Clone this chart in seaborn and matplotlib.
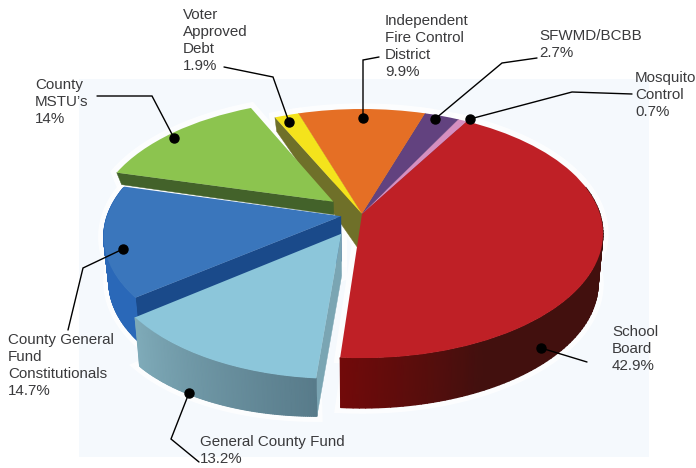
import numpy as np
import matplotlib
matplotlib.use("Agg")
import matplotlib.pyplot as plt
from matplotlib.colors import LinearSegmentedColormap
from matplotlib.transforms import Transform
from matplotlib.patches import Rectangle
import seaborn as sns

# shares, clockwise from the top right
categories = ["School Board", "General County Fund", "County General Fund Constitutionals",
              "County MSTU's", "Voter Approved Debt", "Independent Fire Control District",
              "SFWMD/BCBB", "Mosquito Control"]
shares = [42.9, 13.2, 14.7, 14.0, 1.9, 9.9, 2.7, 0.7]
pulled_out = [0, 0.18, 0.09, 0.16, 0, 0, 0, 0]
slice_radius = [1, 0.96, 0.98, 1, 1, 1, 1, 1]
top_colors = ["#bf2026", "#8cc6da", "#3a76bc", "#8cc44f", "#f4e31c", "#e56f25", "#62427f", "#d68fc0"]
cut_colors = ["#7a1010", "#7aa5b3", "#1a4a8a", "#43622a", "#6f7029", "#8a4a1c", "#3a2850", "#8a5a80"]
wall_near = ["#720a0a", "#7fabb9", "#2a68b8", "#43622a", "#6f7029", "#8a4a1c", "#3a2850", "#8a5a80"]
wall_far = ["#42100e", "#587b8a", "#2a68b8", "#43622a", "#6f7029", "#8a4a1c", "#3a2850", "#8a5a80"]
# wall height in pixels: at the apex, at each end of the arc
wall_height = [(50, 50, 50), (42, 49, 38), (45, 45, 45), (13, 12, 12),
               (40, 14, 14), (14, 14, 14), (14, 14, 14), (14, 14, 14)]

labels = ["School\nBoard\n42.9%", "General County Fund\n13.2%", "County General\nFund\nConstitutionals\n14.7%",
          "County\nMSTU\u2019s\n14%", "Voter\nApproved\nDebt\n1.9%", "Independent\nFire Control\nDistrict\n9.9%",
          "SFWMD/BCBB\n2.7%", "Mosquito\nControl\n0.7%"]
label_pos = [(612, 325), (200, 435), (8, 333), (35, 78), (183, 8), (385, 14), (539, 29), (635, 71)]
# leader lines in pixels: from the text to the dot on the slice
leaders = [[(587, 362), (541, 348)],
           [(199, 462), (171, 439), (189, 393)],
           [(68, 330), (83, 268), (123, 249)],
           [(97, 96), (152, 96), (174, 138)],
           [(224, 67), (273, 77), (289, 122)],
           [(379, 57), (363, 60), (363, 118)],
           [(537, 58), (502, 63), (435, 119)],
           [(632, 94), (572, 92), (470, 119)]]

W, H = 696, 468
CX, CY, RX, RY, PERSP = 362, 214, 238, 121.5, 0.157
BOTTOM_SCALE = 0.98


class DiscToPixels(Transform):
    # tilted view of the unit disc, the near edge comes out larger
    input_dims = output_dims = 2

    def transform_non_affine(self, xy):
        xy = np.asarray(xy, dtype=float)
        s = 1 / (1 + PERSP * xy[:, 1])
        return np.column_stack([CX + RX * xy[:, 0] * s, CY - RY * xy[:, 1] * s])


def drop(pts, height):
    # the lower rim: moved down and slightly in towards the middle
    pts = np.atleast_2d(pts)
    return np.column_stack([CX + (pts[:, 0] - CX) * BOTTOM_SCALE, pts[:, 1] + height])


sns.set_theme(style="white")
plt.rcParams["font.family"] = ["Liberation Sans", "DejaVu Sans"]

fig, ax = plt.subplots(figsize=(W / 100, H / 100), dpi=100)
fig.subplots_adjust(0, 0, 1, 1)

wedges, _ = ax.pie(shares, explode=pulled_out, colors=sns.color_palette(top_colors),
                   startangle=60, counterclock=False, wedgeprops={"linewidth": 0})
ax.set_aspect("auto")
ax.set_xlim(0, W)
ax.set_ylim(H, 0)
ax.axis("off")
ax.add_patch(Rectangle((79, 79), 570, 378, fc="#f5f9fd", ec="none", zorder=0))

to_pixels = DiscToPixels()

# back slices first, then left to the front
draw_order = [5, 6, 7, 4, 3, 2, 0, 1]
for z, i in enumerate(draw_order):
    w = wedges[i]
    w.set_radius(slice_radius[i])
    base = 2 * z + 1
    h_apex, h_a, h_b = wall_height[i]

    t = np.radians(np.linspace(w.theta1, w.theta2, 120))
    arc = to_pixels.transform(np.column_stack([w.center[0] + w.r * np.cos(t), w.center[1] + w.r * np.sin(t)]))
    apex = to_pixels.transform(np.array([w.center]))[0]
    heights = np.linspace(h_a, h_b, len(arc))
    low_arc = drop(arc, heights)
    low_apex = drop(apex, h_apex)[0]

    # white glow round the slice, only outside
    glow = np.vstack([apex, arc, low_arc[::-1], low_apex])
    ax.fill(glow[:, 0], glow[:, 1], fc="white", ec="white", lw=8, alpha=0.75, zorder=0.5)

    # radial cut faces, only those turned towards us
    middle = arc[len(arc) // 2] - apex
    for end, low_end in ((arc[0], low_arc[0]), (arc[-1], low_arc[-1])):
        ex, ey = end - apex
        if ex * (ex * middle[1] - ey * middle[0]) < 0:
            quad = np.array([apex, end, low_end, low_apex])
            ax.fill(quad[:, 0], quad[:, 1], fc=cut_colors[i], ec=cut_colors[i], lw=0.3, zorder=base)

    # outer wall: the part facing us, shaded along the arc
    front = np.sin(t) < 0.25
    X = np.vstack([arc[front, 0], low_arc[front, 0]])
    Y = np.vstack([arc[front, 1], low_arc[front, 1]])
    if front.sum() > 1:
        shade = np.linspace(0, 1, front.sum())
        cmap = LinearSegmentedColormap.from_list("wall", [wall_near[i], wall_far[i]])
        if i == 0:
            # the dark end sets in quickly on the big slice
            shade = np.minimum(shade * 3.5, 1)
        ax.pcolormesh(X, Y, np.vstack([shade, shade]), shading="gouraud", cmap=cmap, vmin=0, vmax=1, zorder=base)

    w.set_transform(to_pixels + ax.transData)
    w.set_clip_on(False)
    w.set_zorder(base + 1)

ax.set_xlim(0, W)
ax.set_ylim(H, 0)

for (x, y), text in zip(label_pos, labels):
    ax.text(x, y, text, fontsize=10.9, color="#3a3a3c", ha="left", va="top", linespacing=1.27, zorder=30)

for pts in leaders:
    px, py = zip(*pts)
    ax.plot(px, py, color="black", lw=1.0, zorder=31, solid_joinstyle="miter")
    ax.plot(px[-1], py[-1], "o", color="black", ms=6.5, zorder=32)

fig.savefig("out.png", dpi=100)
